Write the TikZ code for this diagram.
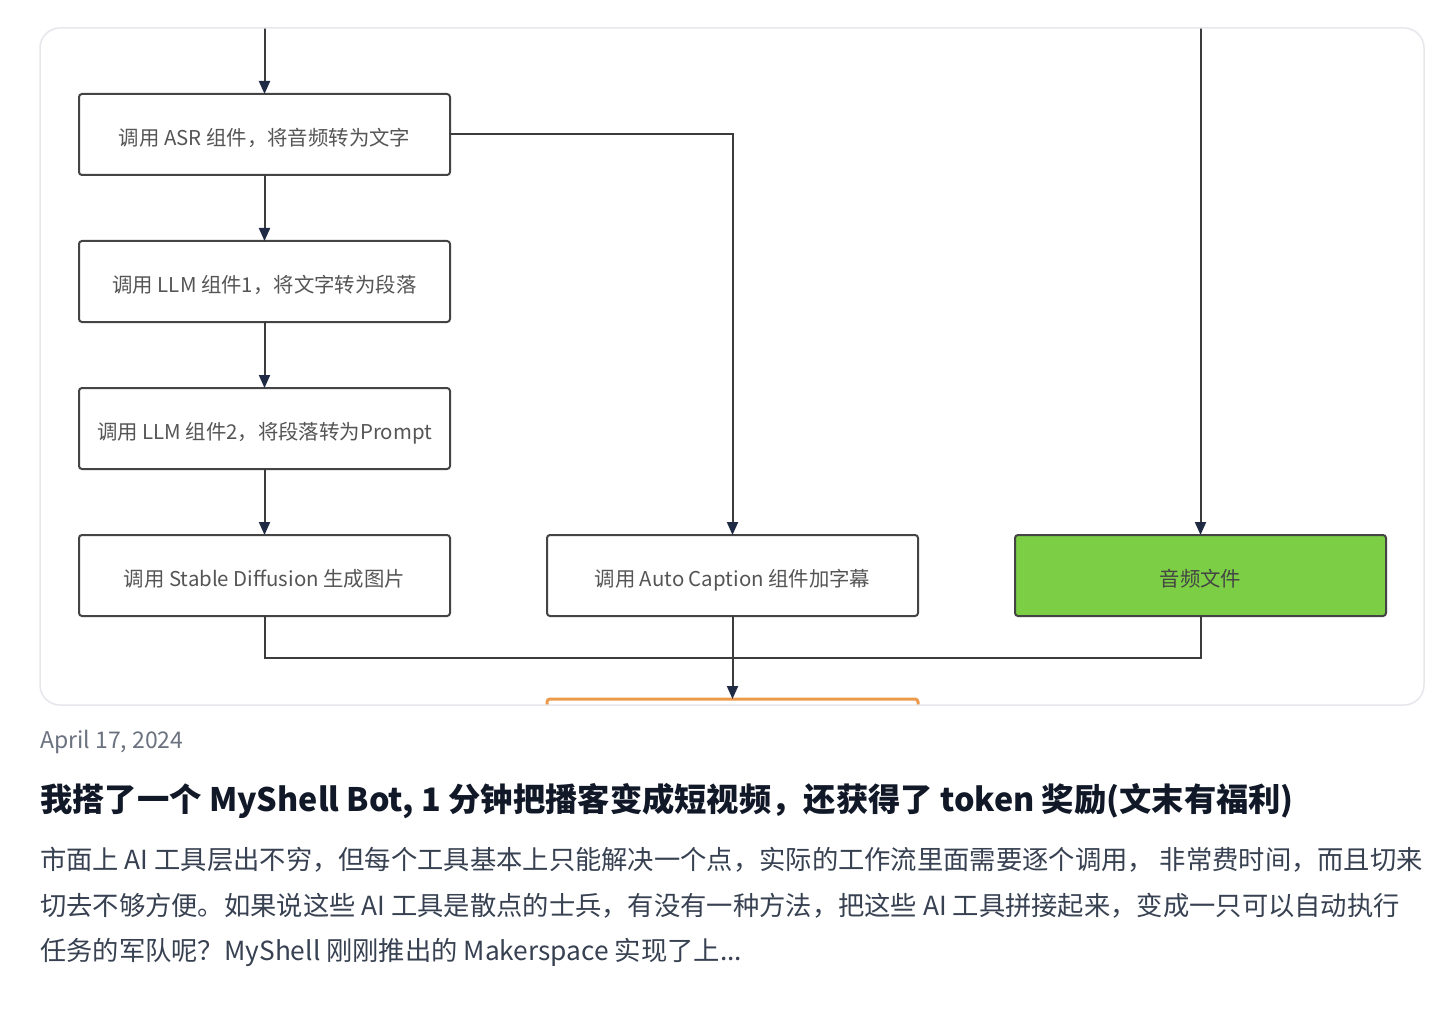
\documentclass[tikz,border=0pt]{standalone}
\usepackage{fontspec}
\setmainfont{Noto Sans CJK SC}
\newfontfamily\cjk{Noto Sans CJK SC}
\usepackage{xcolor}
\usepackage{tikz}
\usetikzlibrary{arrows.meta,positioning}

\definecolor{cardline}{HTML}{E5E7EB}
\definecolor{boxline}{HTML}{444444}
\definecolor{boxtext}{HTML}{555555}
\definecolor{flowline}{HTML}{3C3C3C}
\definecolor{tipcol}{HTML}{1F2A44}
\definecolor{audiogreen}{HTML}{7CCF45}
\definecolor{outorange}{HTML}{EE9A4D}
\definecolor{datecol}{HTML}{6B7280}
\definecolor{titlecol}{HTML}{111827}
\definecolor{bodycol}{HTML}{374151}

\tikzset{
  stepbox/.style={draw=boxline, line width=2pt, rounded corners=3pt, fill=white,
    minimum width=371pt, minimum height=81pt, inner sep=0pt, outer sep=0pt,
    text height=24pt, text depth=2.4pt,
    font=\cjk\fontsize{20.4}{24}\selectfont, text=boxtext},
  flow/.style={draw=flowline, line width=2pt},
}

\begin{document}
\begin{tikzpicture}[x=1pt,y=-1pt,>={Triangle[length=13pt,width=11pt,color=tipcol]}]
  \useasboundingbox (0,0) rectangle (1440,1032);
  \fill[white] (0,0) rectangle (1440,1032);

  \begin{scope}
    \clip[rounded corners=20pt] (40,28) rectangle (1424,705);
    % left column
    \node[stepbox] (asr) at (264.5,134.5) {调用 ASR 组件，将音频转为文字};
    \node[stepbox, below=66pt of asr] (llm1) {调用 LLM 组件1，将文字转为段落};
    \node[stepbox, below=66pt of llm1] (llm2) {调用 LLM 组件2，将段落转为Prompt};
    \node[stepbox, below=66pt of llm2] (sd) {调用 Stable Diffusion 生成图片};
    % middle and right
    \node[stepbox, right=97pt of sd] (cap) {调用 Auto Caption 组件加字幕};
    \node[stepbox, fill=audiogreen, text=boxline, right=97pt of cap] (audio) {音频文件};
    \node[stepbox, draw=outorange, line width=3pt, below=83pt of cap] (out) {};

    \coordinate (topL) at (264.5,20);
    \coordinate (topR) at (1200.5,20);
    \coordinate (join) at (732.5,658);

    \draw[flow,->] (topL) -- (asr);
    \draw[flow,->] (asr) -- (llm1);
    \draw[flow,->] (llm1) -- (llm2);
    \draw[flow,->] (llm2) -- (sd);
    \draw[flow,->] (asr.east) -| (cap.north);
    \draw[flow,->] (topR) -- (audio.north);
    \draw[flow] (sd.south) |- (join) -| (audio.south);
    \draw[flow,->] (cap) -- (out);
  \end{scope}
  \draw[cardline, line width=1.5pt, rounded corners=20pt] (40,28) rectangle (1424,705);

  % post text
  \node[anchor=west, inner sep=0pt, text=datecol, font=\cjk\fontsize{23}{26}\selectfont] (date) at (40,742) {April 17, 2024};
  \node[anchor=west, inner sep=0pt, text=titlecol, font=\cjk\bfseries\fontsize{32.3}{38}\selectfont] (title) at (40,801)
    {我搭了一个 MyShell Bot, 1 分钟把播客变成短视频，还获得了 token 奖励(文末有福利)};
  \node[anchor=west, inner sep=0pt, text=bodycol, font=\cjk\fontsize{26.3}{32}\selectfont] (body1) at (40,860)
    {市面上 AI 工具层出不穷，但每个工具基本上只能解决一个点，实际的工作流里面需要逐个调用， 非常费时间，而且切来};
  \node[anchor=west, inner sep=0pt, text=bodycol, font=\cjk\fontsize{26.3}{32}\selectfont] (body2) at (40,906)
    {切去不够方便。如果说这些 AI 工具是散点的士兵，有没有一种方法，把这些 AI 工具拼接起来，变成一只可以自动执行};
  \node[anchor=west, inner sep=0pt, text=bodycol, font=\cjk\fontsize{26.3}{32}\selectfont] (body3) at (40,952)
    {任务的军队呢？MyShell 刚刚推出的 Makerspace 实现了上...};
\end{tikzpicture}
\end{document}
